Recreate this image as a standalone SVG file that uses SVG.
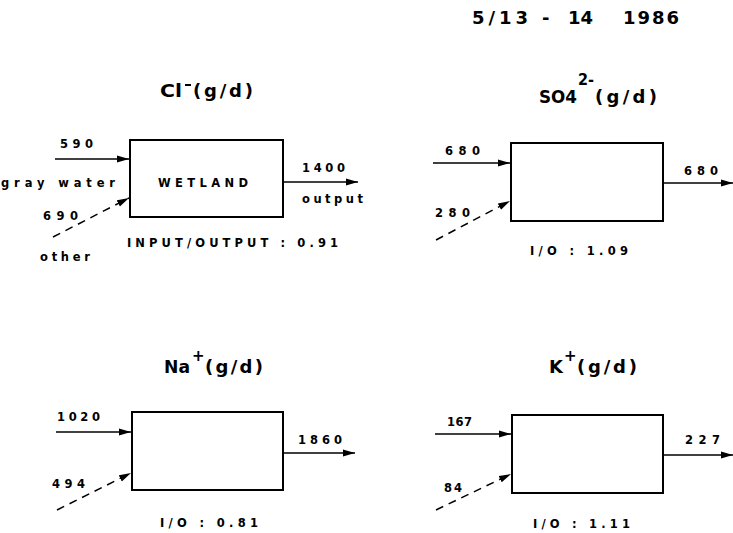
<svg xmlns="http://www.w3.org/2000/svg" width="733" height="533" viewBox="0 0 733 533">
<defs>
<marker id="ah" viewBox="0 0 12 8" refX="12" refY="4" markerWidth="12" markerHeight="8" markerUnits="userSpaceOnUse" orient="auto">
<path d="M0,0.5 L12,4 L0,7.5 Z" fill="#000"/>
</marker>
<style>
text{font-family:"DejaVu Sans","Liberation Sans",Arial,sans-serif;font-weight:bold;fill:#000}
.s{font-size:11.5px}
.t{font-size:18px}
.sup{font-size:15px}
.box{fill:#fff;stroke:#000;stroke-width:2}
.a{stroke:#000;stroke-width:1.5;fill:none;marker-end:url(#ah)}
.d{stroke-dasharray:8 6}
</style>
</defs>
<rect width="733" height="533" fill="#fff"/>
<g id="date">
<text class="t" y="24"><tspan x="472" textLength="56" lengthAdjust="spacing">5/13</tspan><tspan x="542">-</tspan><tspan x="568" textLength="25" lengthAdjust="spacing">14</tspan><tspan x="623" textLength="56" lengthAdjust="spacing">1986</tspan></text>
</g>
<g id="cl">
<text class="t" y="97"><tspan x="160" textLength="22" lengthAdjust="spacingAndGlyphs">Cl</tspan><tspan x="193" textLength="60" lengthAdjust="spacing">(g/d)</tspan></text>
<line x1="185" y1="85" x2="191" y2="85" stroke="#000" stroke-width="2"/>
<rect class="box" x="130" y="140" width="153" height="77"/>
<text class="s" x="158" y="187" textLength="90" lengthAdjust="spacing">WETLAND</text>
<text class="s" x="60" y="148" textLength="33" lengthAdjust="spacing">590</text>
<text class="s" x="1" y="187" textLength="114" lengthAdjust="spacing">gray water</text>
<text class="s" x="43" y="220" textLength="35" lengthAdjust="spacing">690</text>
<text class="s" x="40" y="261" textLength="50" lengthAdjust="spacing">other</text>
<text class="s" x="302" y="172" textLength="43" lengthAdjust="spacing">1400</text>
<text class="s" x="302" y="203" textLength="61" lengthAdjust="spacing">output</text>
<text class="s" x="127" y="247" textLength="211" lengthAdjust="spacing">INPUT/OUTPUT : 0.91</text>
</g>
<g id="so4">
<text class="t" y="103"><tspan x="539" textLength="38" lengthAdjust="spacingAndGlyphs">SO4</tspan><tspan x="595" textLength="62" lengthAdjust="spacing">(g/d)</tspan></text>
<text class="sup" x="578" y="85" textLength="16" lengthAdjust="spacingAndGlyphs">2-</text>
<rect class="box" x="511" y="143" width="152" height="78"/>
<text class="s" x="445" y="155" textLength="35" lengthAdjust="spacing">680</text>
<text class="s" x="435" y="217" textLength="35" lengthAdjust="spacing">280</text>
<text class="s" x="684" y="175" textLength="34" lengthAdjust="spacing">680</text>
<text class="s" x="530" y="255" textLength="98" lengthAdjust="spacing">I/O : 1.09</text>
</g>
<g id="na">
<text class="t" y="373"><tspan x="164" textLength="26" lengthAdjust="spacingAndGlyphs">Na</tspan><tspan x="205" textLength="58" lengthAdjust="spacing">(g/d)</tspan></text>
<text class="sup" x="192" y="361">+</text>
<rect class="box" x="132" y="412" width="151" height="78"/>
<text class="s" x="57" y="421" textLength="43" lengthAdjust="spacing">1020</text>
<text class="s" x="52" y="488" textLength="33" lengthAdjust="spacing">494</text>
<text class="s" x="298" y="444" textLength="44" lengthAdjust="spacing">1860</text>
<text class="s" x="160" y="527" textLength="98" lengthAdjust="spacing">I/O : 0.81</text>
</g>
<g id="k">
<text class="t" y="373"><tspan x="549">K</tspan><tspan x="577" textLength="60" lengthAdjust="spacing">(g/d)</tspan></text>
<text class="sup" x="564" y="361">+</text>
<rect class="box" x="512" y="415" width="151" height="78"/>
<text class="s" x="447" y="426" textLength="25" lengthAdjust="spacing">167</text>
<text class="s" x="444" y="492" textLength="18" lengthAdjust="spacing">84</text>
<text class="s" x="685" y="444" textLength="35" lengthAdjust="spacing">227</text>
<text class="s" x="533" y="528" textLength="97" lengthAdjust="spacing">I/O : 1.11</text>
</g>
<g id="connectors">
<line class="a" x1="55" y1="159" x2="129" y2="159"/>
<line class="a d" x1="53" y1="237" x2="129" y2="198"/>
<line class="a" x1="283" y1="182" x2="358" y2="182"/>
<line class="a" x1="433" y1="163" x2="510" y2="163"/>
<line class="a d" x1="436" y1="240" x2="510" y2="201"/>
<line class="a" x1="663" y1="183" x2="733" y2="183"/>
<line class="a" x1="56" y1="432" x2="131" y2="432"/>
<line class="a d" x1="57" y1="510" x2="131" y2="473"/>
<line class="a" x1="283" y1="453" x2="355" y2="453"/>
<line class="a" x1="435" y1="434" x2="511" y2="434"/>
<line class="a d" x1="436" y1="510" x2="511" y2="474"/>
<line class="a" x1="663" y1="455" x2="733" y2="455"/>
</g>
</svg>
